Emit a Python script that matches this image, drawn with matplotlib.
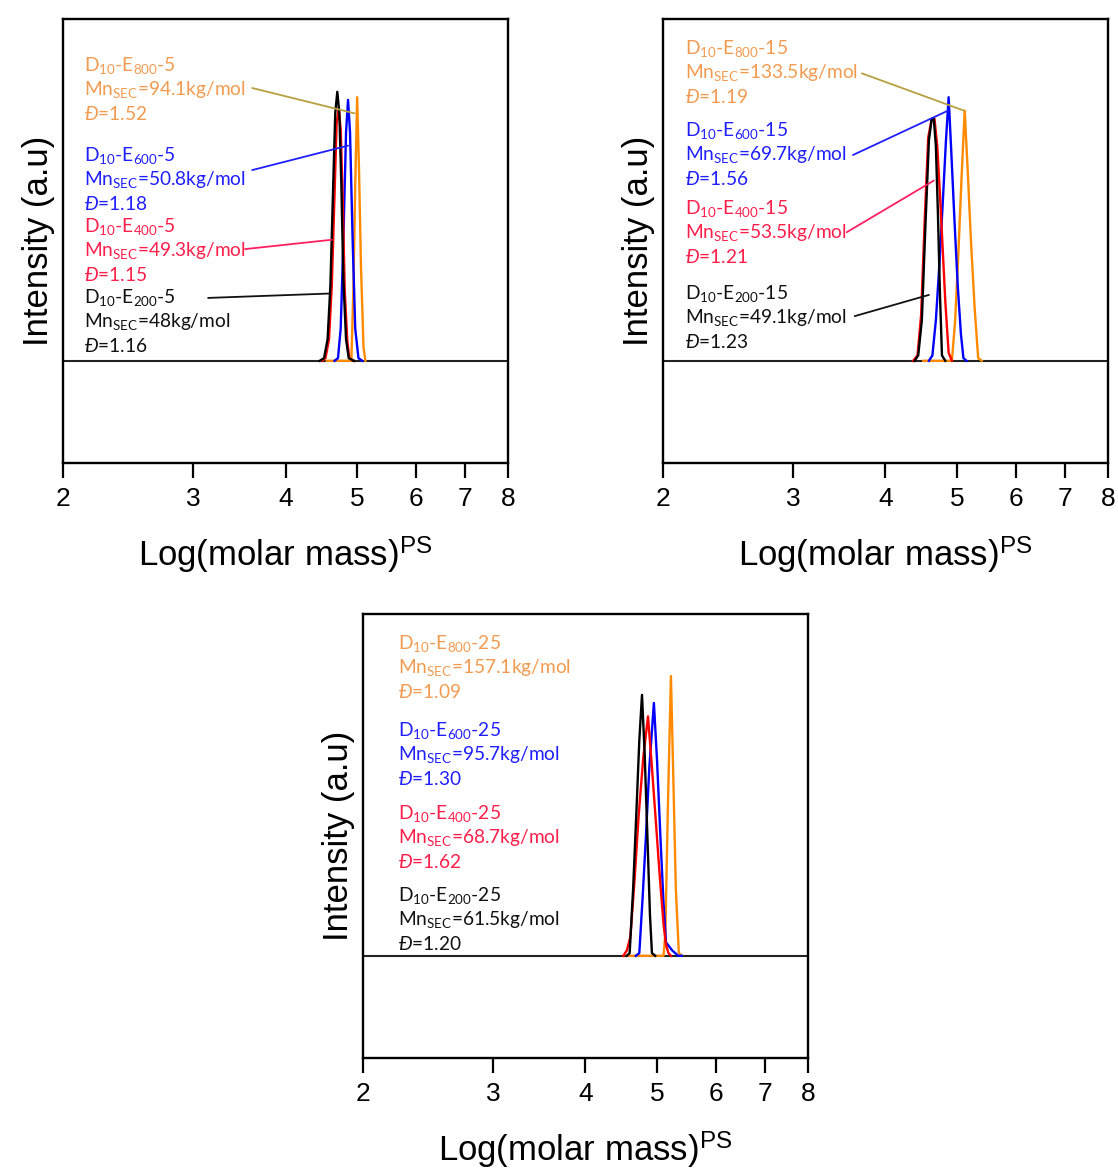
import matplotlib
matplotlib.use('Agg')
import matplotlib.pyplot as plt
from matplotlib.ticker import FixedLocator, FixedFormatter, NullLocator

plt.rcParams['font.family'] = ['Liberation Sans', 'DejaVu Sans']
plt.rcParams['mathtext.fontset'] = 'custom'
plt.rcParams['mathtext.rm'] = 'Lato'
plt.rcParams['mathtext.it'] = 'Lato:italic'

# x ticks (log scale)
xticks = [2, 3, 4, 5, 6, 7, 8]

# ---- panel 1 (D10-Ex-5) ----
p1_blue_x = [4.66, 4.71, 4.75, 4.79, 4.83, 4.86, 4.89, 4.93, 4.97, 5.02, 5.08]
p1_blue_y = [0, 0.01, 0.12, 0.45, 0.85, 0.97, 0.85, 0.45, 0.12, 0.01, 0]
p1_red_x = [4.48, 4.53, 4.58, 4.62, 4.66, 4.69, 4.72, 4.75, 4.78, 4.81, 4.85, 4.88, 4.95]
p1_red_y = [0, 0.01, 0.08, 0.28, 0.62, 0.88, 0.94, 0.86, 0.60, 0.26, 0.07, 0.01, 0]
p1_black_x = [4.45, 4.51, 4.56, 4.60, 4.64, 4.67, 4.70, 4.73, 4.76, 4.79, 4.83, 4.87, 4.95]
p1_black_y = [0, 0.01, 0.08, 0.28, 0.65, 0.92, 1.0, 0.92, 0.65, 0.30, 0.08, 0.01, 0]
p1_orange_x = [4.55, 4.91, 4.94, 4.97, 5.00, 5.03, 5.06, 5.10, 5.13]
p1_orange_y = [0, 0, 0.25, 0.65, 0.98, 0.70, 0.35, 0.05, 0]

# ---- panel 2 (D10-Ex-15) ----
p2_blue_x = [4.58, 4.63, 4.68, 4.73, 4.78, 4.83, 4.87, 4.91, 4.96, 5.01, 5.06, 5.10, 5.15]
p2_blue_y = [0, 0.02, 0.15, 0.35, 0.58, 0.82, 0.98, 0.78, 0.52, 0.28, 0.10, 0.01, 0]
p2_red_x = [4.36, 4.42, 4.47, 4.52, 4.57, 4.62, 4.66, 4.70, 4.74, 4.78, 4.82, 4.87, 4.92]
p2_red_y = [0, 0.02, 0.17, 0.52, 0.83, 0.90, 0.90, 0.80, 0.62, 0.42, 0.22, 0.03, 0]
p2_black_x = [4.38, 4.43, 4.48, 4.53, 4.58, 4.62, 4.65, 4.68, 4.71, 4.74, 4.77, 4.82]
p2_black_y = [0, 0.02, 0.15, 0.50, 0.82, 0.90, 0.90, 0.80, 0.55, 0.25, 0.02, 0]
p2_orange_x = [4.50, 4.92, 4.97, 5.02, 5.07, 5.12, 5.17, 5.22, 5.28, 5.34, 5.40]
p2_orange_y = [0, 0, 0.15, 0.40, 0.68, 0.93, 0.70, 0.45, 0.20, 0.01, 0]

# ---- panel 3 (D10-Ex-25) ----
p3_blue_x = [4.68, 4.73, 4.78, 4.83, 4.88, 4.95, 5.00, 5.05, 5.10, 5.14, 5.24, 5.34, 5.40]
p3_blue_y = [0, 0.01, 0.22, 0.45, 0.70, 0.94, 0.72, 0.45, 0.20, 0.05, 0.02, 0.0, 0]
p3_red_x = [4.50, 4.55, 4.60, 4.66, 4.72, 4.79, 4.86, 4.92, 4.98, 5.04, 5.10, 5.14, 5.18, 5.22]
p3_red_y = [0, 0.02, 0.07, 0.28, 0.52, 0.74, 0.89, 0.70, 0.50, 0.30, 0.12, 0.04, 0.01, 0]
p3_black_x = [4.55, 4.59, 4.64, 4.69, 4.73, 4.77, 4.81, 4.85, 4.89, 4.92, 4.97]
p3_black_y = [0, 0.01, 0.25, 0.55, 0.80, 0.97, 0.75, 0.45, 0.15, 0.01, 0]
p3_orange_x = [4.55, 5.10, 5.13, 5.17, 5.22, 5.26, 5.30, 5.35, 5.40]
p3_orange_y = [0, 0, 0.08, 0.55, 1.04, 0.65, 0.25, 0.01, 0]

# labels: (E block, suffix, Mn, dispersity)
p1_labels = [('800', '5', '94.1', '1.52'), ('600', '5', '50.8', '1.18'),
             ('400', '5', '49.3', '1.15'), ('200', '5', '48', '1.16')]
p2_labels = [('800', '15', '133.5', '1.19'), ('600', '15', '69.7', '1.56'),
             ('400', '15', '53.5', '1.21'), ('200', '15', '49.1', '1.23')]
p3_labels = [('800', '25', '157.1', '1.09'), ('600', '25', '95.7', '1.30'),
             ('400', '25', '68.7', '1.62'), ('200', '25', '61.5', '1.20')]

# order of labels: orange, blue, red, black
line_colors = ['#ff8a00', '#0000ff', '#ff0000', '#000000']
text_colors = ['#f29b50', '#1f1fff', '#ff1f4b', '#111111']
conn_colors = ['#b8a040', '#1f1fff', '#ff2060', '#111111']

fig = plt.figure(figsize=(11.18, 11.71), dpi=100)
ax1 = fig.add_axes([0.0564, 0.6046, 0.398, 0.379])
ax2 = fig.add_axes([0.593, 0.6046, 0.398, 0.379])
ax3 = fig.add_axes([0.3247, 0.0965, 0.398, 0.379])


def setup(ax):
    ax.set_xscale('log')
    ax.set_xlim(2, 8)
    ax.set_ylim(-0.38, 1.27)
    ax.xaxis.set_major_locator(FixedLocator(xticks))
    ax.xaxis.set_major_formatter(FixedFormatter([str(t) for t in xticks]))
    ax.xaxis.set_minor_locator(NullLocator())
    ax.set_yticks([])
    ax.tick_params(axis='x', direction='out', length=11, width=1.6,
                   labelsize=19, pad=6)
    for s in ax.spines.values():
        s.set_linewidth(1.7)
    ax.axhline(0, color='#222222', lw=1.5, zorder=1)
    ax.set_ylabel('Intensity (a.u)', fontsize=25, labelpad=6)
    ax.set_xlabel(r'Log(molar mass)$^{\mathregular{PS}}$', fontsize=25, labelpad=17)


def draw_peaks(ax, series):
    for (x, y), c in zip(series, line_colors):
        ax.plot(x, y, color=c, lw=1.7, zorder=2)


def draw_labels(ax, labels, x0, y_first, dy=0.055):
    for (e, suf, mn, d), yy, c in zip(labels, y_first, text_colors):
        kw = dict(transform=ax.transAxes, color=c, fontsize=13.8, family='Lato',
                  va='center', ha='left')
        ax.text(x0, yy, r'D$_{\mathregular{10}}$-E$_{\mathregular{%s}}$-%s' % (e, suf), **kw)
        ax.text(x0, yy - dy, r'Mn$_{\mathregular{SEC}}$=%skg/mol' % mn, **kw)
        ax.text(x0, yy - 2 * dy, r'$\mathit{Đ}$=%s' % d, **kw)


def draw_connectors(ax, targets, starts):
    for (tx, ty), (sx, sy), c in zip(targets, starts, conn_colors):
        ax.annotate('', xy=(tx, ty), xycoords='data',
                    xytext=(sx, sy), textcoords='axes fraction',
                    arrowprops=dict(arrowstyle='-', color=c, lw=1.3,
                                    shrinkA=0, shrinkB=0))


for ax in (ax1, ax2, ax3):
    setup(ax)

# draw order: orange, blue, red, black
draw_peaks(ax1, [(p1_orange_x, p1_orange_y), (p1_blue_x, p1_blue_y),
                 (p1_red_x, p1_red_y), (p1_black_x, p1_black_y)])
draw_peaks(ax2, [(p2_orange_x, p2_orange_y), (p2_blue_x, p2_blue_y),
                 (p2_red_x, p2_red_y), (p2_black_x, p2_black_y)])
draw_peaks(ax3, [(p3_orange_x, p3_orange_y), (p3_blue_x, p3_blue_y),
                 (p3_red_x, p3_red_y), (p3_black_x, p3_black_y)])

draw_labels(ax1, p1_labels, 0.047, [0.896, 0.694, 0.534, 0.374])
draw_labels(ax2, p2_labels, 0.049, [0.935, 0.750, 0.574, 0.383])
draw_labels(ax3, p3_labels, 0.079, [0.935, 0.739, 0.552, 0.367])

draw_connectors(ax1, [(4.96, 0.92), (4.86, 0.80), (4.62, 0.45), (4.58, 0.25)],
                [(0.425, 0.845), (0.425, 0.660), (0.409, 0.482), (0.326, 0.372)])
draw_connectors(ax2, [(5.11, 0.93), (4.86, 0.93), (4.65, 0.67), (4.58, 0.245)],
                [(0.447, 0.878), (0.427, 0.694), (0.413, 0.520), (0.431, 0.331)])

fig.savefig('out.png', dpi=100)
